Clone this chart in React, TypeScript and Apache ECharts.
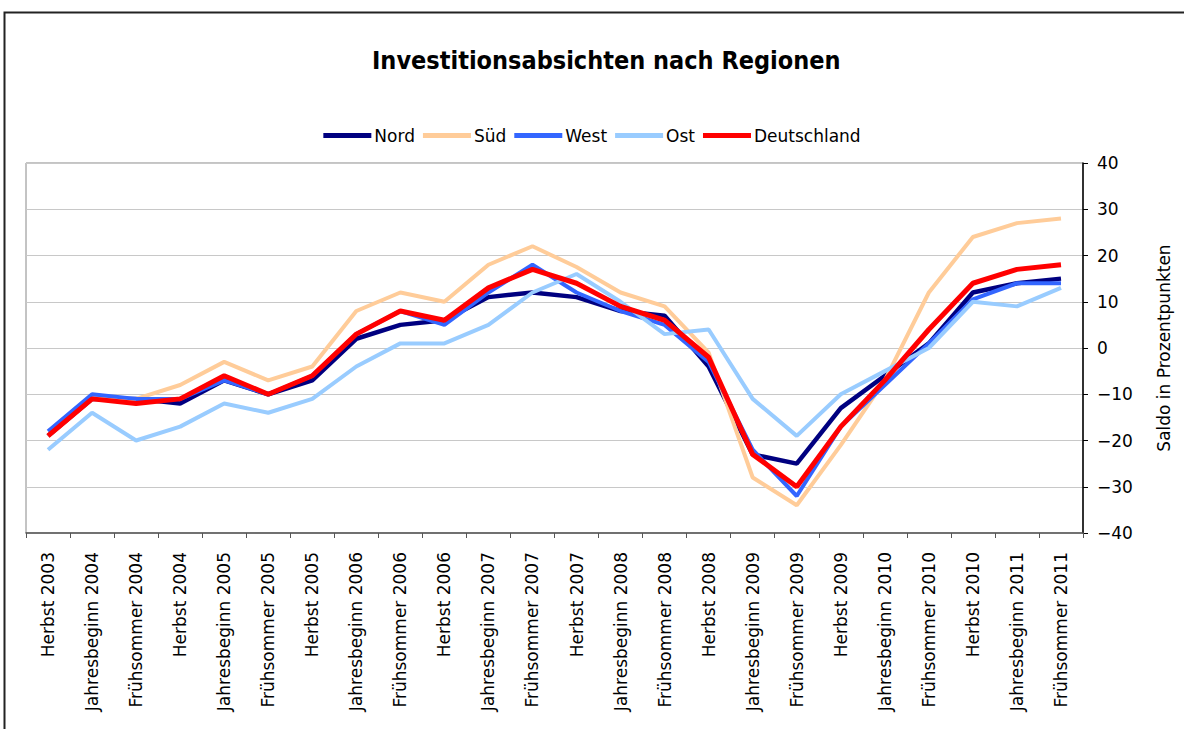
import React, { useEffect, useRef } from "react";
import * as echarts from "echarts";

const categories = [
  "Herbst 2003", "Jahresbeginn 2004", "Frühsommer 2004", "Herbst 2004",
  "Jahresbeginn 2005", "Frühsommer 2005", "Herbst 2005", "Jahresbeginn 2006",
  "Frühsommer 2006", "Herbst 2006", "Jahresbeginn 2007", "Frühsommer 2007",
  "Herbst 2007", "Jahresbeginn 2008", "Frühsommer 2008", "Herbst 2008",
  "Jahresbeginn 2009", "Frühsommer 2009", "Herbst 2009", "Jahresbeginn 2010",
  "Frühsommer 2010", "Herbst 2010", "Jahresbeginn 2011", "Frühsommer 2011",
];

const nord = [-19, -11, -11, -12, -7, -10, -7, 2, 5, 6, 11, 12, 11, 8, 7, -4, -23, -25, -13, -6, 1, 12, 14, 15];
const sued = [-19, -11, -11, -8, -3, -7, -4, 8, 12, 10, 18, 22, 17.5, 12, 9, -1, -28, -34, -21, -7, 12, 24, 27, 28];
const west = [-18, -10, -11, -11, -7, -10, -6, 3, 8, 5, 12, 18, 12, 8, 5, -3, -22, -32, -17, -8, 1, 10.5, 14, 14];
const ost = [-22, -14, -20, -17, -12, -14, -11, -4, 1, 1, 5, 12, 16, 10, 3, 4, -11, -19, -10, -5, 0, 10, 9, 13];
const deutschland = [-19, -11, -12, -11, -6, -10, -6, 3, 8, 6, 13, 17, 14, 9, 6, -2, -23, -30, -17, -7, 4, 14, 17, 18];

const seriesNames = ["Nord", "Süd", "West", "Ost", "Deutschland"];
const seriesColors = ["#000080", "#FFCC99", "#3366FF", "#99CCFF", "#FF0000"];
const seriesWidths = [4.5, 4, 4, 4, 5];
const seriesData = [nord, sued, west, ost, deutschland];

const title = "Investitionsabsichten nach Regionen";
const yAxisName = "Saldo in Prozentpunkten";

export default function App() {
  const ref = useRef<HTMLDivElement>(null);
  useEffect(() => {
    if (!ref.current) return;
    const chart = echarts.init(ref.current, null, { renderer: "svg" });
    const font = "'DejaVu Sans', sans-serif";
    chart.setOption({
      animation: false,
      backgroundColor: "#ffffff",
      title: {
        text: title,
        left: 367,
        top: 43,
        textStyle: {
          fontFamily: "'DejaVu Sans Condensed', 'DejaVu Sans', sans-serif",
          fontWeight: "bold",
          fontSize: 25,
          color: "#000",
        },
      },
      legend: {
        top: 122,
        left: "center",
        itemWidth: 48,
        itemHeight: 5,
        itemGap: 8,
        icon: "rect",
        textStyle: { fontFamily: font, fontSize: 17, color: "#000", padding: [0, 0, 0, -2] },
        data: seriesNames,
      },
      graphic: [
        {
          type: "rect",
          shape: { x: 4.5, y: 12.5, width: 1300, height: 800 },
          style: { fill: "none", stroke: "#222", lineWidth: 2 },
          silent: true,
        },
      ],
      grid: {
        left: 26,
        right: 101,
        top: 163,
        bottom: 196,
        show: true,
        borderColor: "#888",
        borderWidth: 1,
      },
      xAxis: {
        type: "category",
        data: categories,
        boundaryGap: true,
        axisLine: { onZero: false, lineStyle: { color: "#555", width: 1.5 } },
        axisTick: { show: true, length: 5, lineStyle: { color: "#555" }, alignWithLabel: false },
        axisLabel: {
          rotate: 90,
          interval: 0,
          margin: 19,
          fontFamily: font,
          fontSize: 17,
          color: "#000",
        },
      },
      yAxis: {
        type: "value",
        position: "right",
        min: -40,
        max: 40,
        interval: 10,
        name: yAxisName,
        nameLocation: "middle",
        nameGap: 72,
        nameRotate: 90,
        nameTextStyle: { fontFamily: font, fontSize: 17, color: "#000" },
        axisLine: { show: true, lineStyle: { color: "#000", width: 1.5 } },
        axisTick: { show: true, length: 5, lineStyle: { color: "#000" } },
        axisLabel: {
          margin: 14,
          fontFamily: font,
          fontSize: 17,
          color: "#000",
          formatter: (v: number) => String(v).replace("-", "\u2212"),
        },
        splitLine: { show: true, lineStyle: { color: "#c8c8c8", width: 1 } },
      },
      series: seriesNames.map((name, i) => ({
        name,
        type: "line",
        data: seriesData[i],
        symbol: "none",
        showSymbol: false,
        color: seriesColors[i],
        lineStyle: { color: seriesColors[i], width: seriesWidths[i] },
        z: 2 + i,
      })),
    });
    return () => chart.dispose();
  }, []);
  return (
    <div
      ref={ref}
      style={{ position: "absolute", left: 0, top: 0, width: 1184, height: 729 }}
    />
  );
}
